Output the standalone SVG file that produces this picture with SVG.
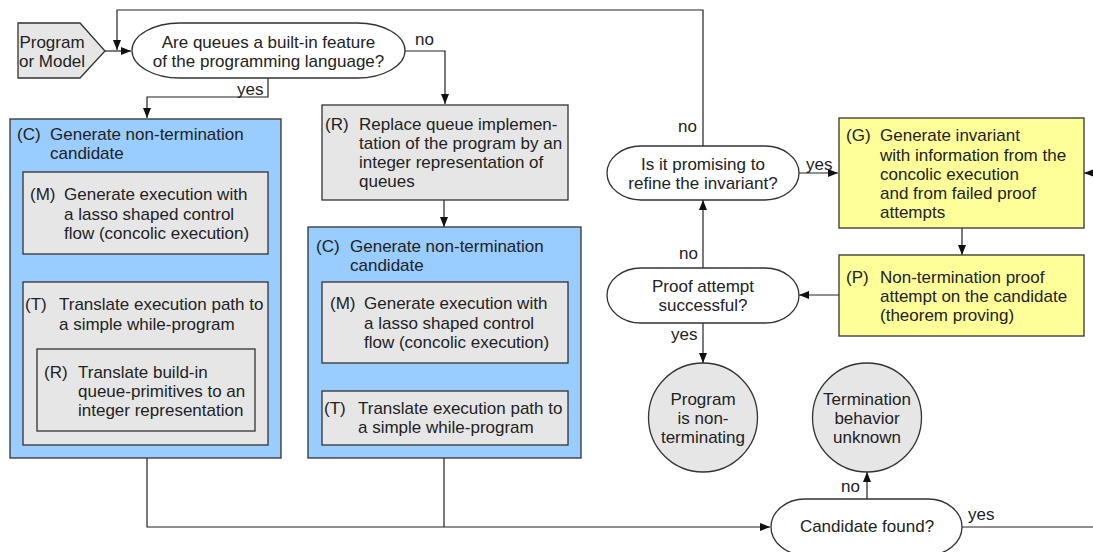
<svg xmlns="http://www.w3.org/2000/svg" width="1093" height="552" viewBox="0 0 1093 552">
<defs>
<marker id="arr" markerWidth="10" markerHeight="8" refX="10" refY="4" orient="auto" markerUnits="userSpaceOnUse"><path d="M0,0 L10,4 L0,8 z" fill="#111"/></marker>
<style>
text{font-family:"Liberation Sans",Arial,sans-serif;font-size:17px;fill:#222}
.c{text-anchor:middle}
.box{stroke:#333;stroke-width:1.3}
.blue{fill:#99ccff}
.gray{fill:#e6e6e6}
.yel{fill:#ffff99}
.dec{fill:#fff;stroke:#333;stroke-width:1.3}
.ln{fill:none;stroke:#222;stroke-width:1.2}
.ar{marker-end:url(#arr)}
</style>
</defs>
<rect width="1093" height="552" fill="#fff"/>
<g id="connectors">
<path class="ln ar" d="M105,51 H131"/>
<path class="ln ar" d="M703,146 V10 H117 V50"/>
<path class="ln ar" d="M405,51 H445 V104"/>
<path class="ln ar" d="M268,78 V97 H147 V118"/>
<path class="ln ar" d="M147,254 V282"/>
<path class="ln ar" d="M444,200 V227"/>
<path class="ln ar" d="M444,363 V391"/>
<path class="ln ar" d="M147,458 V527 H770"/>
<path class="ln" d="M444,458 V527"/>
<path class="ln ar" d="M799,173 H838"/>
<path class="ln ar" d="M1093,173 H1084"/>
<path class="ln ar" d="M962,228 V255"/>
<path class="ln ar" d="M839,295 H799"/>
<path class="ln ar" d="M703,268 V200"/>
<path class="ln ar" d="M703,323 V363"/>
<path class="ln ar" d="M867,499 V472"/>
<path class="ln" d="M962,527 H1093"/>
<text x="415" y="45">no</text>
<text x="237" y="95">yes</text>
<text x="678" y="132">no</text>
<text x="806" y="170">yes</text>
<text x="679" y="259">no</text>
<text x="671" y="340">yes</text>
<text x="841" y="492">no</text>
<text x="968" y="520">yes</text>
</g>
<g id="start">
<polygon class="box gray" points="18,23 80,23 105,51 80,78 18,78"/>
<text class="c" x="52" y="48">Program</text>
<text class="c" x="52" y="67">or Model</text>
</g>
<g id="q-builtin">
<rect class="dec" x="132" y="23" width="273" height="55" rx="48" ry="27.5"/>
<text class="c" x="268.5" y="48">Are queues a built-in feature</text>
<text class="c" x="268.5" y="67">of the programming language?</text>
</g>
<g id="c-left">
<rect class="box blue" x="10" y="119" width="271" height="339"/>
<text x="17" y="140">(C)</text>
<text x="50" y="140">Generate non-termination</text>
<text x="50" y="159">candidate</text>
</g>
<g id="m-left">
<rect class="box gray" x="23" y="172" width="245" height="82"/>
<text x="30" y="200">(M)</text>
<text x="64" y="200">Generate execution with</text>
<text x="64" y="219.5">a lasso shaped control</text>
<text x="64" y="239">flow (concolic execution)</text>
</g>
<g id="t-left">
<rect class="box gray" x="23" y="282" width="245" height="163"/>
<text x="25" y="310">(T)</text>
<text x="59" y="310">Translate execution path to</text>
<text x="59" y="330">a simple while-program</text>
</g>
<g id="r-left">
<rect class="box gray" x="37" y="349" width="218" height="82"/>
<text x="44" y="378">(R)</text>
<text x="78" y="378">Translate build-in</text>
<text x="78" y="397">queue-primitives to an</text>
<text x="78" y="416">integer representation</text>
</g>
<g id="r-mid">
<rect class="box gray" x="322" y="105" width="246" height="95"/>
<text x="325" y="130">(R)</text>
<text x="359" y="130">Replace queue implemen-</text>
<text x="359" y="149">tation of the program by an</text>
<text x="359" y="168">integer representation of</text>
<text x="359" y="187">queues</text>
</g>
<g id="c-mid">
<rect class="box blue" x="308" y="227" width="273" height="231"/>
<text x="316" y="252">(C)</text>
<text x="350" y="252">Generate non-termination</text>
<text x="350" y="271">candidate</text>
</g>
<g id="m-mid">
<rect class="box gray" x="322" y="282" width="246" height="81"/>
<text x="330" y="309">(M)</text>
<text x="364" y="309">Generate execution with</text>
<text x="364" y="328.5">a lasso shaped control</text>
<text x="364" y="348">flow (concolic execution)</text>
</g>
<g id="t-mid">
<rect class="box gray" x="322" y="391" width="246" height="54"/>
<text x="324" y="414">(T)</text>
<text x="358" y="414">Translate execution path to</text>
<text x="358" y="433">a simple while-program</text>
</g>
<g id="q-refine">
<rect class="dec" x="607" y="146" width="192" height="54" rx="34" ry="27"/>
<text class="c" x="703" y="170">Is it promising to</text>
<text class="c" x="703" y="189">refine the invariant?</text>
</g>
<g id="g-box">
<rect class="box yel" x="839" y="118" width="245" height="110"/>
<text x="846" y="141">(G)</text>
<text x="880" y="141">Generate invariant</text>
<text x="880" y="160.5">with information from the</text>
<text x="880" y="180">concolic execution</text>
<text x="880" y="199">and from failed proof</text>
<text x="880" y="218">attempts</text>
</g>
<g id="p-box">
<rect class="box yel" x="839" y="255" width="245" height="81"/>
<text x="846" y="283">(P)</text>
<text x="880" y="283">Non-termination proof</text>
<text x="880" y="302">attempt on the candidate</text>
<text x="880" y="321">(theorem proving)</text>
</g>
<g id="q-proof">
<rect class="dec" x="607" y="268" width="192" height="55" rx="34" ry="27.5"/>
<text class="c" x="703" y="292">Proof attempt</text>
<text class="c" x="703" y="311">successful?</text>
</g>
<g id="end-nonterm">
<circle class="box gray" cx="703" cy="417.5" r="54.5"/>
<text class="c" x="703" y="405">Program</text>
<text class="c" x="703" y="424">is non-</text>
<text class="c" x="703" y="443">terminating</text>
</g>
<g id="end-unknown">
<circle class="box gray" cx="867" cy="417.5" r="54.5"/>
<text class="c" x="867" y="405">Termination</text>
<text class="c" x="867" y="424">behavior</text>
<text class="c" x="867" y="443">unknown</text>
</g>
<g id="q-candidate">
<rect class="dec" x="771" y="499" width="191" height="56" rx="34" ry="28"/>
<text class="c" x="867" y="532">Candidate found?</text>
</g>
</svg>
